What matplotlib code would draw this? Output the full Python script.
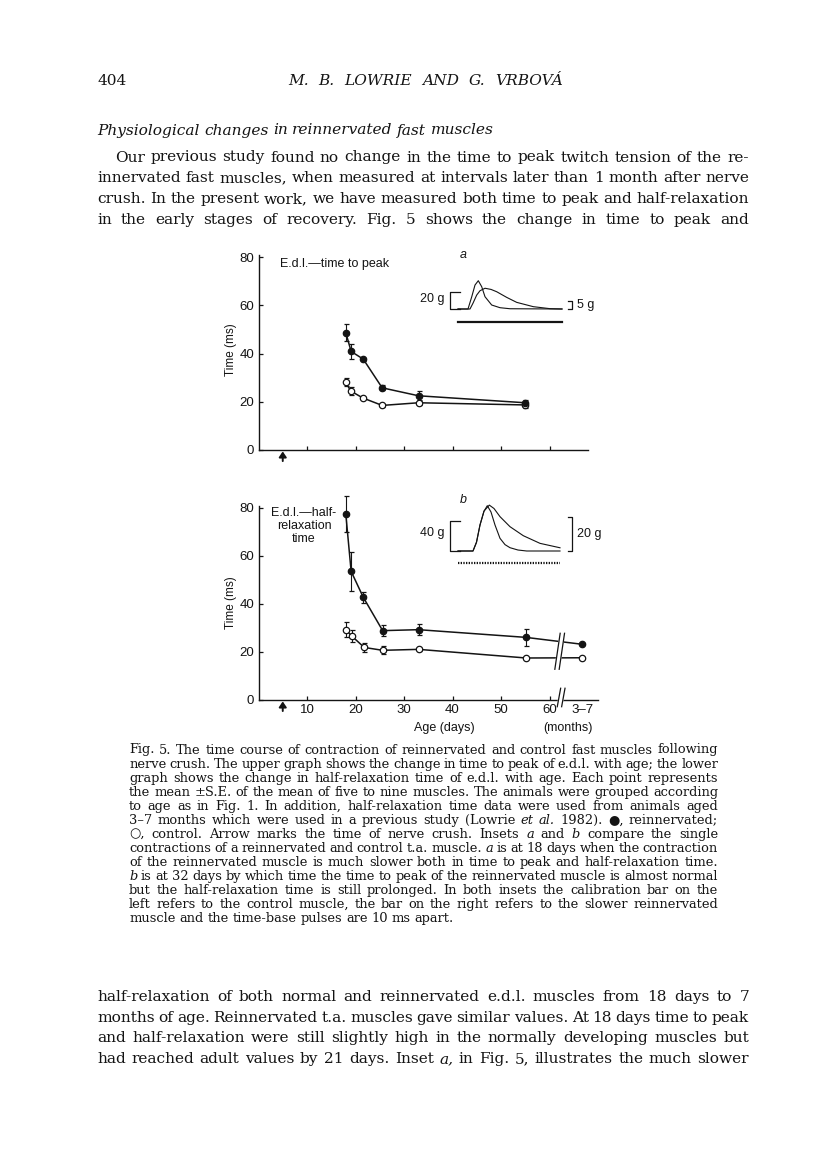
import numpy as np
import matplotlib.pyplot as plt

W, H = 816, 1163
INK = '#141414'
SANS = 'Liberation Sans'
SERIF = ['DejaVu Serif', 'DejaVu Sans']

plt.rcParams['font.family'] = SANS
plt.rcParams['text.color'] = INK

# upper graph: e.d.l. time to peak (ms) against age (days)
tp_re_age = [18.0, 19.1, 21.6, 25.5, 33.0, 55.0]
tp_re_ms = [48.7, 40.9, 37.7, 25.8, 22.5, 19.6]
tp_re_se = [3.5, 3.0, 0.6, 1.0, 2.0, 1.0]
tp_co_age = [18.0, 19.0, 21.5, 25.5, 33.0, 55.0]
tp_co_ms = [28.1, 24.5, 21.6, 18.5, 19.6, 18.7]
tp_co_se = [1.7, 1.8, 0.5, 0.5, 1.0, 1.2]

# lower graph: half-relaxation time (ms); last point = 3-7 months group
hr_re_age = [18.0, 19.1, 21.6, 25.6, 33.0, 55.1, 66.8]
hr_re_ms = [77.5, 53.6, 42.8, 28.9, 29.3, 26.1, 23.2]
hr_re_se = [7.3, 8.0, 2.3, 2.3, 2.2, 3.5, 0.0]
hr_co_age = [18.0, 19.2, 21.8, 25.6, 33.0, 55.2, 66.8]
hr_co_ms = [29.3, 26.7, 21.9, 20.7, 21.1, 17.5, 17.6]
hr_co_se = [3.0, 2.5, 2.0, 1.7, 0.5, 0.0, 0.0]

crush_day = 5
day_ticks = [10, 20, 30, 40, 50, 60]
months_pos = 66.8
months_label = '3\u20137'
y_ticks = [0, 20, 40, 60, 80]

# inset twitch records: time (ms) and tension (g)
a_ctrl_t = [0, 10, 13.7, 17, 20.3, 23.7, 27, 33.7, 42, 52, 104]
a_ctrl_g = [0, 0, 14, 27.7, 32.7, 25.8, 14.2, 4.6, 1.5, 0.3, 0]
a_rein_t = [0, 12, 15, 18.7, 22, 27, 33, 38.7, 48.7, 58.7, 75.3, 92, 104]
a_rein_g = [0, 0, 3.5, 8.4, 11, 12.5, 11.8, 10.4, 7.0, 4.0, 1.4, 0.2, 0]
b_ctrl_t = [0, 15, 18.5, 22, 26, 29.3, 33, 37, 42, 47, 52, 60, 68.7, 102]
b_ctrl_g = [0, 0, 12, 34.7, 53, 60.4, 52, 34.7, 16.9, 8.5, 4.4, 1.3, 0, 0]
b_rein_t = [0, 15, 18.5, 22, 26, 31.3, 36, 42, 52, 65.3, 82, 102]
b_rein_g = [0, 0, 5, 15.3, 23.5, 27, 25, 20.2, 14.3, 9.0, 4.5, 1.9]
a_cal = (20, 5)
b_cal = (40, 20)

para1 = [
    "Our previous study found no change in the time to peak twitch tension of the re-",
    "innervated fast muscles, when measured at intervals later than 1 month after nerve",
    "crush. In the present work, we have measured both time to peak and half-relaxation",
    "in the early stages of recovery. Fig. 5 shows the change in time to peak and",
]
para2 = [
    "half-relaxation of both normal and reinnervated e.d.l. muscles from 18 days to 7",
    "months of age. Reinnervated t.a. muscles gave similar values. At 18 days time to peak",
    "and half-relaxation were still slightly high in the normally developing muscles but",
    "had reached adult values by 21 days. Inset _a, in Fig. 5, illustrates the much slower",
]
caption = [
    "Fig. 5. The time course of contraction of reinnervated and control fast muscles following",
    "nerve crush. The upper graph shows the change in time to peak of e.d.l. with age; the lower",
    "graph shows the change in half-relaxation time of e.d.l. with age. Each point represents",
    "the mean \u00b1S.E. of the mean of five to nine muscles. The animals were grouped according",
    "to age as in Fig. 1. In addition, half-relaxation time data were used from animals aged",
    "3\u20137 months which were used in a previous study (Lowrie _et _al. 1982). \u25cf, reinnervated;",
    "\u25cb, control. Arrow marks the time of nerve crush. Insets _a and _b compare the single",
    "contractions of a reinnervated and control t.a. muscle. _a is at 18 days when the contraction",
    "of the reinnervated muscle is much slower both in time to peak and half-relaxation time.",
    "_b is at 32 days by which time the time to peak of the reinnervated muscle is almost normal",
    "but the half-relaxation time is still prolonged. In both insets the calibration bar on the",
    "left refers to the control muscle, the bar on the right refers to the slower reinnervated",
    "muscle and the time-base pulses are 10 ms apart.",
]

fig = plt.figure(figsize=(W / 100, H / 100), dpi=100)
renderer = fig.canvas.get_renderer()
GAP = 0.22  # minimum word gap, in em


def px_axes(x0, y0, x1, y1):
    return fig.add_axes([x0 / W, 1 - y1 / H, (x1 - x0) / W, (y1 - y0) / H])


def make_words(line, size, italic_all=False):
    objs = []
    for w in line.split(' '):
        it = italic_all or w.startswith('_')
        objs.append(fig.text(0, 0, w.lstrip('_'), fontsize=size, family=SERIF,
                             style='italic' if it else 'normal',
                             ha='left', va='baseline', color=INK))
    return objs


def natural_width(line, size):
    objs = make_words(line, size)
    wsum = sum(t.get_window_extent(renderer).width for t in objs)
    for t in objs:
        t.remove()
    return wsum + GAP * size * 100 / 72 * (len(objs) - 1)


def fit_size(lines, width):
    return 10 * min(width[i] / natural_width(l, 10) for i, l in enumerate(lines))


def text_line(line, x0, x1, base, size, justify=True, italic=False):
    objs = make_words(line, size, italic)
    widths = [t.get_window_extent(renderer).width for t in objs]
    if justify and len(objs) > 1:
        gap = (x1 - x0 - sum(widths)) / (len(objs) - 1)
    else:
        gap = 0.3 * size * 100 / 72
    x = x0
    for t, w in zip(objs, widths):
        t.set_position((x / W, 1 - base / H))
        x += w + gap


# ---- page text ----
L, R = 97, 749
body_lines = para1 + para2
body_w = [R - 115] + [R - L] * 7
body_size = fit_size(body_lines, body_w)

fig.text(98 / W, 1 - 85 / H, '404', fontsize=body_size, family=SERIF, color=INK, va='baseline')
text_line("M. B. LOWRIE AND G. VRBOV\u00c1", 288, 563, 85, body_size, italic=True)
text_line("Physiological changes in reinnervated fast muscles", L, 473, 134.5, body_size,
          justify=False, italic=True)

for i, line in enumerate(para1):
    text_line(line, 115 if i == 0 else L, R, 161.5 + 20.7 * i, body_size)
for i, line in enumerate(para2):
    text_line(line, L, R, 1001 + 20.6 * i, body_size)

CL, CR = 129, 718
cap_size = fit_size(caption[:-1], [CR - CL] * 12)
for i, line in enumerate(caption):
    text_line(line, CL, CR, 753.5 + 14.02 * i, cap_size, justify=i < len(caption) - 1)


# ---- graphs ----
def style_axes(ax):
    for s in ['top', 'right']:
        ax.spines[s].set_visible(False)
    for s in ['left', 'bottom']:
        ax.spines[s].set_linewidth(1.0)
        ax.spines[s].set_color(INK)
    ax.set_ylim(0, 81)
    ax.set_yticks(y_ticks)
    ax.tick_params(direction='in', length=3, width=0.9, labelsize=9.5, colors=INK, pad=3)
    ax.patch.set_alpha(0)
    ax.annotate('', xy=(crush_day, -0.6), xytext=(crush_day, -4.6), annotation_clip=False,
                arrowprops=dict(arrowstyle='-|>,head_width=0.22,head_length=0.32', lw=1.4,
                                color=INK, shrinkA=0, shrinkB=0, mutation_scale=10))


def series(ax, x, y, e, filled):
    ax.errorbar(x, y, yerr=e, fmt='-o', color=INK, lw=1.1, elinewidth=0.8, capsize=1.8,
                capthick=0.8, ms=4.6, mew=0.9, mec=INK, mfc=INK if filled else 'white',
                clip_on=False, zorder=3)


ax1 = px_axes(258.5, 254.8, 588.3, 450)
style_axes(ax1)
ax1.set_xlim(0, 68)
ax1.set_xticks(day_ticks)
ax1.set_xticklabels([])
series(ax1, tp_co_age, tp_co_ms, tp_co_se, False)
series(ax1, tp_re_age, tp_re_ms, tp_re_se, True)

ax2 = px_axes(258.5, 505.6, 598, 700)
style_axes(ax2)
ax2.set_xlim(0, 70)
ax2.set_xticks(day_ticks + [months_pos])
ax2.set_xticklabels([str(d) for d in day_ticks] + [months_label])
ax2.get_xticklines()[-2].set_visible(False)
series(ax2, hr_co_age, hr_co_ms, hr_co_se, False)
series(ax2, hr_re_age, hr_re_ms, hr_re_se, True)

# axis and data breaks between 60 days and 3-7 months
for (xa, xb, y0, y1) in [(61.1, 62.2, 12.8, 27.8), (61.6, 62.3, -2.8, 4.9)]:
    dx = 0.9
    ax2.fill([xa, xa + dx, xb + dx, xb], [y0, y0, y1, y1], color='white', zorder=6, clip_on=False)
    for off in (0, dx):
        ax2.plot([xa + off, xb + off], [y0, y1], color=INK, lw=0.9, zorder=7, clip_on=False)

for y in (350, 603):
    fig.text(231 / W, 1 - y / H, 'Time (ms)', rotation=90, ha='center', va='center',
             fontsize=8.5, family=SANS)
fig.text(280 / W, 1 - 263.5 / H, 'E.d.l.\u2014time to peak', fontsize=9, va='center', family=SANS)
fig.text(304 / W, 1 - 526 / H, 'E.d.l.\u2014half-\nrelaxation\ntime', fontsize=9, ha='center',
         va='center', linespacing=1.15, family=SANS)
fig.text(444 / W, 1 - 728.5 / H, 'Age (days)', fontsize=9, ha='center', va='center', family=SANS)
fig.text(568 / W, 1 - 728.5 / H, '(months)', fontsize=9, ha='center', va='center', family=SANS)


# ---- insets ----
def inset(box, base_px, px_per_g, ctrl, rein, cal, tb_px, dotted, letter):
    x0, y0, x1, y1 = box
    ax = px_axes(x0, y0, x1, y1)
    ax.axis('off')
    ax.set_xlim(x0 - 458, x1 - 458)
    ax.set_ylim((base_px - y1) / px_per_g[0], (base_px - y0) / px_per_g[0])
    bx = ax.twinx()
    bx.axis('off')
    bx.set_ylim((base_px - y1) / px_per_g[1], (base_px - y0) / px_per_g[1])
    ax.plot(ctrl[0], ctrl[1], color=INK, lw=0.8)
    bx.plot(rein[0], rein[1], color=INK, lw=0.8)
    ax.plot([2, -8.5, -8.5, 2], [0, 0, cal[0], cal[0]], color=INK, lw=0.9)
    bx.plot([110, 113.5, 113.5, 110], [0, 0, cal[1], cal[1]], color=INK, lw=0.9)
    ax.text(-14, cal[0] * 0.6, '%d g' % cal[0], ha='right', va='center', fontsize=9, family=SANS)
    bx.text(119, cal[1] * 0.5, '%d g' % cal[1], ha='left', va='center', fontsize=9, family=SANS)
    tb = -tb_px / px_per_g[0]
    if dotted:
        ax.plot([0, 102], [tb, tb], color=INK, lw=1.6, ls=(0, (0.6, 0.6)))
    else:
        ax.plot([0, 104], [tb, tb], color=INK, lw=1.6)
    ax.text(5, (base_px - letter) / px_per_g[0], 'ab'[dotted], style='italic', fontsize=9,
            ha='center', va='center', family=SANS)


inset((400, 250, 620, 335), 309, (17.3 / 20, 8.3 / 5), (a_ctrl_t, a_ctrl_g),
      (a_rein_t, a_rein_g), a_cal, 13.3, False, 255)
inset((400, 490, 620, 575), 551, (30 / 40, 34 / 20), (b_ctrl_t, b_ctrl_g),
      (b_rein_t, b_rein_g), b_cal, 12.3, True, 500)

fig.savefig('out.png', dpi=100, facecolor='white')
